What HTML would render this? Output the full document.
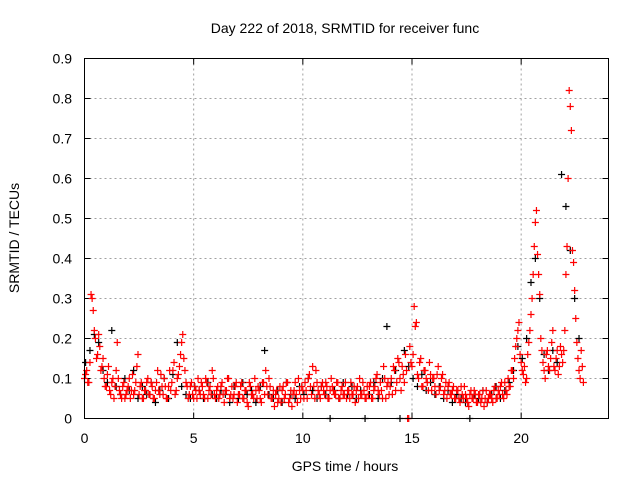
<!DOCTYPE html>
<html><head><meta charset="utf-8">
<style>
html,body{margin:0;padding:0;background:#fff;}
svg{display:block;font-family:"Liberation Sans",sans-serif;}
</style></head>
<body>
<svg id="chart" width="640" height="480">
<text x="345" y="33" font-size="14" text-anchor="middle">Day 222 of 2018, SRMTID for receiver func</text>
<text x="345" y="471" font-size="14" text-anchor="middle">GPS time / hours</text>
<text transform="translate(19,238) rotate(-90)" font-size="14" text-anchor="middle">SRMTID / TECUs</text>
<g id="grid"></g>
<g id="black"></g>
<g id="red"></g>
<rect x="84.5" y="58.5" width="524" height="360" fill="none" stroke="#000" stroke-width="1"/>
</svg>
<script>
const xTicks=[0,5,10,15,20];
const yTicks=[0,0.1,0.2,0.3,0.4,0.5,0.6,0.7,0.8,0.9];
const yTickLabels=["0","0.1","0.2","0.3","0.4","0.5","0.6","0.7","0.8","0.9"];
const redStart=0, redStep=0.1;
const redValues=[
.10,.12,.09,.31,.27,.20,.16,.18,.13,.10,
.08,.13,.06,.10,.08,.19,.07,.05,.09,.06,
.08,.05,.11,.07,.13,.06,.09,.05,.07,.10,
.06,.08,.05,.09,.07,.11,.06,.08,.05,.12,
.09,.14,.07,.11,.16,.21,.12,.08,.06,.09,
.05,.07,.10,.06,.08,.05,.09,.07,.06,.10,
.05,.08,.06,.09,.04,.07,.10,.06,.05,.08,
.04,.06,.09,.05,.07,.03,.08,.06,.10,.05,
.07,.04,.09,.12,.06,.08,.05,.03,.07,.05,
.04,.08,.06,.09,.05,.03,.07,.06,.10,.05,
.07,.09,.05,.11,.06,.08,.12,.07,.05,.09,
.06,.08,.05,.10,.07,.06,.09,.05,.08,.06,
.05,.07,.09,.06,.04,.08,.10,.06,.07,.05,
.06,.09,.05,.08,.11,.06,.07,.13,.05,.09,
.08,.06,.12,.09,.14,.07,.11,.16,0,.18,
.13,.28,.24,.10,.15,.08,.12,.09,.14,.07,
.10,.06,.13,.08,.11,.07,.05,.09,.06,.08,
.05,.07,.04,.06,.08,.05,.03,.07,.05,.06,
.04,.06,.05,.03,.07,.05,.06,.04,.08,.05,
.06,.09,.05,.07,.10,.08,.12,.15,.20,.24,
.14,.11,.09,.16,.22,.30,.43,.52,.36,.20,
.14,.10,.17,.12,.19,.13,.15,.11,.18,.14,
.22,.43,.82,.72,.39,.25,.15,.10,.13];
const red2Start=0.05, red2Step=0.1;
const red2Values=[
.11,.09,.14,.30,.22,.15,.21,.12,.15,.08,
.11,.07,.09,.05,.12,.10,.06,.08,.05,.07,
.10,.07,.06,.09,.16,.08,.05,.07,.09,.06,
.09,.05,.07,.12,.06,.08,.10,.05,.08,.07,
.12,.06,.10,.13,.19,.15,.09,.05,.08,.06,
.08,.05,.07,.09,.06,.10,.05,.08,.12,.06,
.07,.05,.08,.06,.07,.10,.05,.08,.06,.09,
.06,.08,.05,.07,.04,.09,.06,.05,.07,.08,
.05,.09,.06,.08,.10,.05,.07,.06,.04,.08,
.07,.05,.09,.04,.07,.06,.09,.04,.07,.08,
.05,.07,.10,.08,.13,.05,.09,.06,.08,.07,
.09,.05,.07,.08,.06,.09,.05,.07,.06,.09,
.07,.05,.06,.08,.07,.05,.06,.09,.05,.08,
.08,.05,.07,.10,.07,.09,.05,.10,.08,.06,
.10,.13,.07,.15,.10,.13,.09,.12,0,.14,
.16,.23,.11,.14,.08,.12,.10,.07,.11,.10,
.08,.11,.07,.10,.06,.09,.08,.06,.07,.05,
.07,.05,.08,.05,.06,.04,.06,.05,.07,.04,
.06,.04,.07,.05,.04,.06,.05,.07,.05,.07,
.08,.06,.09,.06,.08,.12,.10,.18,.22,.16,
.12,.13,.10,.19,.26,.36,.49,.41,.31,.17,
.12,.16,.13,.15,.22,.12,.17,.13,.16,.17,
.36,.60,.78,.42,.32,.19,.12,.17,.09];
const blackStart=0.05, blackStep=0.2;
const blackValues=[
.14,.17,.21,.19,.12,.09,.22,.08,.06,.10,
.07,.12,.05,.08,.06,.09,.04,.07,.10,.05,
.11,.19,.08,.06,.05,.08,.07,.05,.09,.06,
.05,.07,.06,.04,.08,.05,.09,.06,.07,.04,
.08,.17,.06,.05,.07,.04,.09,.06,.05,.08,
.06,.10,.07,.05,.08,.06,0,.07,.05,.09,
.06,.08,.05,.07,0,.06,.09,.05,.10,.23,
.09,.12,0,.17,.13,.10,.08,.11,.07,.09,
.06,.08,.05,.07,.04,.06,.05,.04,0,.06,
.05,.07,.04,.06,.08,.05,.07,.09,.12,.18,
.15,.20,.34,.40,.30,.16,.12,.17,.14,.61,
.53,.42,.30,.20];

const NS="http://www.w3.org/2000/svg";
const X0=84.5,X1=608.5,Y0=418.5,Y1=58.5;
function xs(v){return X0+(v/24)*(X1-X0);}
function ys(v){return Y0-(v/0.9)*(Y0-Y1);}
function mk(tag,attrs,parent){const e=document.createElementNS(NS,tag);for(const k in attrs)e.setAttribute(k,attrs[k]);parent.appendChild(e);return e;}
const grid=document.getElementById('grid');
xTicks.forEach((t,i)=>{
  const x=xs(t);
  if(i>0){const g=mk('line',{x1:x,x2:x,y1:Y1,y2:Y0,stroke:'#a0a0a0','stroke-dasharray':'2,3'},grid);
  
  }
  const tm=mk('path',{d:`M${x},${Y0}v-6M${x},${Y1}v6`,stroke:'#000'},grid);
  
  
  const tk=mk('text',{x:x,y:443,'font-size':14,'text-anchor':'middle'},grid);
  tk.textContent=String(t);
  
  
});
yTicks.forEach((t,i)=>{
  const y=ys(t);
  if(i>0&&i<yTicks.length-1){const g=mk('line',{x1:X0,x2:X1,y1:y,y2:y,stroke:'#a0a0a0','stroke-dasharray':'2,3'},grid);
  
  }
  const tm=mk('path',{d:`M${X0},${y}h6M${X1},${y}h-6`,stroke:'#000'},grid);
  
  
  const tk=mk('text',{x:72,y:y+5,'font-size':14,'text-anchor':'end'},grid);
  tk.textContent=yTickLabels[i];
  
  
});
function plus(parent,t,v,color){
  const x=xs(t),y=ys(v);
  return mk('path',{d:`M${x-3.5},${y}H${x+3.5}M${x},${y-3.5}V${y+3.5}`,stroke:color,'stroke-width':1.2,fill:'none'},parent);
}
const gb=document.getElementById('black');
blackValues.forEach((v,i)=>{
  const p=plus(gb,blackStart+i*blackStep,v,'#000');
  
  
});
const gr=document.getElementById('red');
redValues.forEach((v,i)=>{
  const p=plus(gr,redStart+i*redStep,v,'#ff0000');
  
  
});
red2Values.forEach((v,i)=>{
  const p=plus(gr,red2Start+i*red2Step,v,'#ff0000');
  
  
});
</script>
</body></html>
